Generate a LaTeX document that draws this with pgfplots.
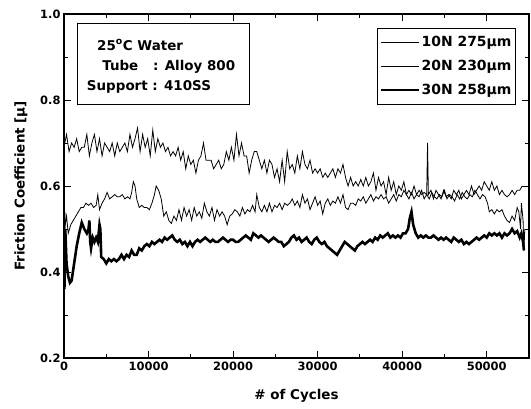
\documentclass[border=0pt]{standalone}
\usepackage{fontspec}
\setmainfont{DejaVu Sans}
\usepackage{pgfplots}
\pgfplotsset{compat=1.18}
\begin{document}
\begin{tikzpicture}
\begin{axis}[
  scale only axis, width=465bp, height=344bp,
  xmin=0, xmax=55000, ymin=0.2, ymax=1.0,
  xtick={0,10000,20000,30000,40000,50000},
  minor xtick={5000,15000,25000,35000,45000},
  ytick={0.2,0.4,0.6,0.8,1.0},
  minor ytick={0.3,0.5,0.7,0.9},
  scaled x ticks=false,
  tick align=inside, ticks=both,
  major tick length=7bp, minor tick length=4bp,
  every tick/.style={black, line width=0.9pt},
  axis line style={line width=1.1pt},
  xticklabel style={/pgf/number format/.cd, fixed, precision=0, 1000 sep={}},
  yticklabel style={/pgf/number format/.cd, fixed, fixed zerofill, precision=1},
  /pgf/number format/assume math mode=true,
  tick label style={font=\fontsize{11.5}{13}\selectfont\bfseries},
  xlabel={\# of Cycles},
  ylabel={Friction Coefficient [μ]},
  label style={font=\fontsize{13.5}{15}\selectfont\bfseries},
  xlabel style={yshift=-12bp},
  ylabel style={yshift=6bp},
  legend style={at={(0.972,0.959)}, anchor=north east, draw=black, line width=1pt,
    font=\fontsize{14}{16}\selectfont\bfseries, row sep=8bp, inner xsep=3bp, inner ysep=6bp,
    cells={anchor=west}, nodes={inner xsep=1bp}},
  legend image code/.code={\draw[#1] (0bp,0bp) -- (38bp,0bp);},
]
\addplot[black, line width=0.8pt] coordinates {
(0,0.69)(300,0.72)(600,0.68)(900,0.70)(1200,0.69)(1500,0.71)(1800,0.68)(2100,0.69)(2400,0.69)(2700,0.72)
(3000,0.67)(3300,0.70)(3600,0.72)(3900,0.68)(4200,0.71)(4500,0.67)(4800,0.70)(5100,0.69)(5400,0.68)(5700,0.70)
(6000,0.67)(6300,0.70)(6600,0.68)(6900,0.69)(7200,0.70)(7500,0.68)(7800,0.72)(8100,0.69)(8400,0.71)(8700,0.735)
(9000,0.68)(9300,0.72)(9600,0.69)(9900,0.71)(10200,0.67)(10500,0.73)(10800,0.68)(11100,0.71)(11400,0.69)(11700,0.70)
(12000,0.68)(12300,0.69)(12600,0.67)(12900,0.68)(13200,0.67)(13500,0.69)(13800,0.66)(14100,0.68)(14400,0.64)(14700,0.67)
(15000,0.65)(15300,0.66)(15600,0.63)(15900,0.66)(16200,0.67)(16500,0.70)(16800,0.66)(17100,0.66)(17400,0.66)(17700,0.64)
(18000,0.65)(18300,0.66)(18600,0.64)(18900,0.65)(19200,0.68)(19500,0.66)(19800,0.69)(20100,0.66)(20400,0.72)(20700,0.67)
(21000,0.70)(21300,0.67)(21600,0.67)(21900,0.63)(22200,0.66)(22500,0.68)(22800,0.68)(23100,0.66)(23400,0.64)(23700,0.66)
(24000,0.63)(24300,0.66)(24600,0.65)(24900,0.62)(25200,0.64)(25500,0.61)(25800,0.66)(26100,0.61)(26400,0.68)(26700,0.64)
(27000,0.65)(27300,0.63)(27600,0.67)(27900,0.64)(28200,0.68)(28500,0.65)(28800,0.64)(29100,0.66)(29400,0.63)(29700,0.64)
(30000,0.63)(30300,0.64)(30600,0.62)(30900,0.63)(31200,0.62)(31500,0.63)(31800,0.64)(32100,0.62)(32400,0.64)(32700,0.63)
(33000,0.65)(33300,0.62)(33600,0.60)(33900,0.62)(34200,0.60)(34500,0.61)(34800,0.60)(35100,0.615)(35400,0.60)(35700,0.62)
(36000,0.60)(36300,0.61)(36600,0.63)(36900,0.59)(37200,0.62)(37500,0.60)(37800,0.61)(38100,0.58)(38400,0.62)(38700,0.59)
(39000,0.61)(39300,0.58)(39600,0.60)(39900,0.59)(40200,0.61)(40500,0.58)(40800,0.59)(41100,0.58)(41400,0.60)(41700,0.58)
(42000,0.59)(42300,0.58)(42600,0.585)(42900,0.58)(43000,0.70)(43100,0.58)(43400,0.59)(43700,0.57)(44000,0.59)(44300,0.58)
(44600,0.57)(44900,0.59)(45200,0.575)(45500,0.58)(45800,0.57)(46100,0.59)(46400,0.58)(46700,0.59)(47000,0.57)(47300,0.58)
(47600,0.59)(47900,0.58)(48200,0.60)(48500,0.58)(48800,0.59)(49100,0.60)(49400,0.59)(49700,0.61)(50000,0.60)(50300,0.59)
(50600,0.61)(50900,0.59)(51200,0.60)(51500,0.58)(51800,0.59)(52100,0.58)(52400,0.575)(52700,0.58)(53000,0.59)(53300,0.58)
(53600,0.59)(53900,0.59)(54200,0.60)
};
\addlegendentry{10N 275μm}
\addplot[black, line width=0.8pt] coordinates {
(0,0.54)(150,0.51)(300,0.53)(500,0.49)(800,0.51)(1100,0.52)(1400,0.53)(1700,0.54)(2000,0.55)(2300,0.55)
(2600,0.56)(2900,0.555)(3200,0.56)(3500,0.55)(3800,0.555)(4000,0.58)(4200,0.545)(4500,0.56)(4800,0.57)(5100,0.585)
(5400,0.57)(5700,0.575)(6000,0.58)(6300,0.575)(6600,0.575)(6900,0.58)(7200,0.57)(7500,0.575)(7800,0.57)(8000,0.585)
(8200,0.61)(8400,0.60)(8600,0.57)(8900,0.55)(9200,0.555)(9500,0.55)(9800,0.55)(10100,0.545)(10400,0.56)(10700,0.58)
(10900,0.60)(11200,0.59)(11500,0.57)(11800,0.53)(12100,0.54)(12400,0.52)(12700,0.513)(13000,0.53)(13300,0.52)(13600,0.545)
(13900,0.52)(14200,0.55)(14500,0.53)(14800,0.545)(15100,0.52)(15400,0.55)(15700,0.53)(16000,0.54)(16300,0.525)(16600,0.56)
(16900,0.54)(17200,0.53)(17500,0.55)(17800,0.52)(18100,0.545)(18400,0.53)(18700,0.54)(19000,0.53)(19300,0.51)(19600,0.53)
(19900,0.535)(20200,0.545)(20500,0.54)(20800,0.53)(21100,0.55)(21400,0.535)(21700,0.545)(22000,0.54)(22300,0.555)(22600,0.54)
(22800,0.58)(23100,0.55)(23400,0.54)(23700,0.555)(24000,0.54)(24300,0.56)(24600,0.54)(24900,0.555)(25200,0.55)(25500,0.56)
(25800,0.545)(26100,0.56)(26400,0.555)(26700,0.56)(27000,0.57)(27300,0.555)(27600,0.565)(27900,0.55)(28200,0.58)(28500,0.56)
(28800,0.57)(29100,0.545)(29400,0.56)(29700,0.575)(30000,0.555)(30300,0.565)(30600,0.535)(30900,0.56)(31200,0.57)(31500,0.555)
(31800,0.565)(32100,0.56)(32400,0.575)(32700,0.56)(33000,0.58)(33300,0.55)(33600,0.545)(33900,0.56)(34200,0.56)(34500,0.555)
(34800,0.57)(35100,0.565)(35400,0.575)(35700,0.56)(36000,0.57)(36300,0.58)(36600,0.565)(36900,0.575)(37200,0.57)(37500,0.58)
(37800,0.57)(38100,0.575)(38400,0.56)(38700,0.57)(39000,0.58)(39300,0.565)(39600,0.58)(39900,0.575)(40200,0.59)(40500,0.58)
(40800,0.57)(41100,0.585)(41400,0.57)(41700,0.58)(42000,0.575)(42300,0.59)(42600,0.57)(42900,0.58)(43200,0.57)(43500,0.585)
(43800,0.575)(44100,0.57)(44400,0.58)(44700,0.575)(45000,0.59)(45300,0.57)(45600,0.58)(45900,0.575)(46200,0.565)(46500,0.58)
(46800,0.57)(47100,0.585)(47400,0.575)(47700,0.57)(48000,0.58)(48300,0.575)(48600,0.59)(48900,0.58)(49200,0.57)(49500,0.58)
(49800,0.575)(50100,0.56)(50300,0.54)(50600,0.545)(50900,0.535)(51200,0.545)(51500,0.54)(51800,0.545)(52100,0.53)(52400,0.52)
(52700,0.515)(53000,0.53)(53300,0.52)(53600,0.55)(53800,0.54)(54000,0.50)(54100,0.56)(54300,0.52)(54400,0.45)(54500,0.50)
};
\addlegendentry{20N 230μm}
\addplot[black, line width=2.6pt] coordinates {
(0,0.54)(50,0.36)(150,0.50)(300,0.42)(500,0.39)(700,0.375)(900,0.38)(1200,0.42)(1500,0.46)(1800,0.49)
(2100,0.515)(2400,0.50)(2700,0.49)(2900,0.50)(3000,0.52)(3100,0.47)(3200,0.455)(3400,0.48)(3600,0.47)(3800,0.48)
(4000,0.47)(4200,0.51)(4300,0.50)(4400,0.435)(4700,0.43)(5000,0.42)(5300,0.43)(5600,0.425)(5900,0.43)(6200,0.425)
(6500,0.43)(6800,0.44)(7100,0.43)(7400,0.44)(7700,0.435)(8000,0.45)(8300,0.44)(8600,0.44)(8900,0.455)(9200,0.45)
(9500,0.46)(9800,0.465)(10100,0.46)(10400,0.47)(10700,0.465)(11000,0.47)(11300,0.475)(11600,0.47)(11900,0.48)(12200,0.475)
(12500,0.48)(12800,0.485)(13100,0.475)(13400,0.47)(13700,0.475)(14000,0.465)(14300,0.47)(14600,0.46)(14900,0.47)(15200,0.46)
(15500,0.47)(15800,0.475)(16100,0.47)(16400,0.475)(16700,0.48)(17000,0.475)(17300,0.47)(17600,0.475)(17900,0.47)(18200,0.47)
(18500,0.475)(18800,0.48)(19100,0.475)(19400,0.47)(19700,0.475)(20000,0.475)(20300,0.47)(20600,0.47)(20900,0.475)(21200,0.48)
(21500,0.485)(21800,0.48)(22100,0.475)(22400,0.49)(22700,0.485)(23000,0.48)(23300,0.485)(23600,0.48)(23900,0.475)(24200,0.47)
(24500,0.475)(24800,0.48)(25100,0.475)(25400,0.47)(25700,0.47)(26000,0.46)(26300,0.465)(26600,0.47)(26900,0.48)(27200,0.485)
(27500,0.475)(27800,0.48)(28100,0.47)(28400,0.475)(28700,0.48)(29000,0.47)(29300,0.465)(29600,0.475)(29900,0.48)(30200,0.47)
(30500,0.465)(30800,0.47)(31100,0.46)(31400,0.455)(31700,0.45)(32000,0.445)(32300,0.44)(32600,0.45)(32900,0.46)(33200,0.47)
(33500,0.465)(33800,0.46)(34100,0.455)(34400,0.45)(34700,0.46)(35000,0.465)(35300,0.47)(35600,0.465)(35900,0.47)(36200,0.475)
(36500,0.47)(36800,0.48)(37100,0.475)(37400,0.485)(37700,0.48)(38000,0.485)(38300,0.49)(38600,0.48)(38900,0.485)(39200,0.48)
(39500,0.485)(39800,0.48)(40100,0.49)(40400,0.49)(40700,0.50)(40900,0.525)(41100,0.54)(41300,0.51)(41600,0.49)(41900,0.48)
(42200,0.485)(42500,0.48)(42800,0.485)(43100,0.48)(43400,0.48)(43700,0.485)(44000,0.48)(44300,0.475)(44600,0.48)(44900,0.475)
(45200,0.48)(45500,0.475)(45800,0.47)(46100,0.48)(46400,0.475)(46700,0.47)(47000,0.475)(47300,0.465)(47600,0.47)(47900,0.465)
(48200,0.47)(48500,0.475)(48800,0.48)(49100,0.475)(49400,0.48)(49700,0.485)(50000,0.48)(50300,0.49)(50600,0.485)(50900,0.49)
(51200,0.485)(51500,0.49)(51800,0.48)(52100,0.49)(52400,0.485)(52700,0.49)(53000,0.50)(53300,0.49)(53600,0.495)(53900,0.48)
(54100,0.49)(54300,0.47)(54400,0.45)
};
\addlegendentry{30N 258μm}
\draw[black, line width=1pt] (rel axis cs:0.030,0.738) rectangle (rel axis cs:0.400,0.971);
\node[anchor=base west, inner sep=0pt, font=\fontsize{13.5}{15}\selectfont\bfseries] at (rel axis cs:0.071,0.895) {25\textsuperscript{o}C Water};
\node[anchor=base west, inner sep=0pt, font=\fontsize{13.5}{15}\selectfont\bfseries] at (rel axis cs:0.082,0.837) {Tube\hspace{1.1em}: Alloy 800};
\node[anchor=base west, inner sep=0pt, font=\fontsize{13.5}{15}\selectfont\bfseries] at (rel axis cs:0.049,0.779) {Support : 410SS};
\end{axis}
\path ([shift={(-64bp,-51bp)}]current axis.south west) rectangle ([shift={(2bp,14bp)}]current axis.north east);
\end{tikzpicture}
\end{document}
